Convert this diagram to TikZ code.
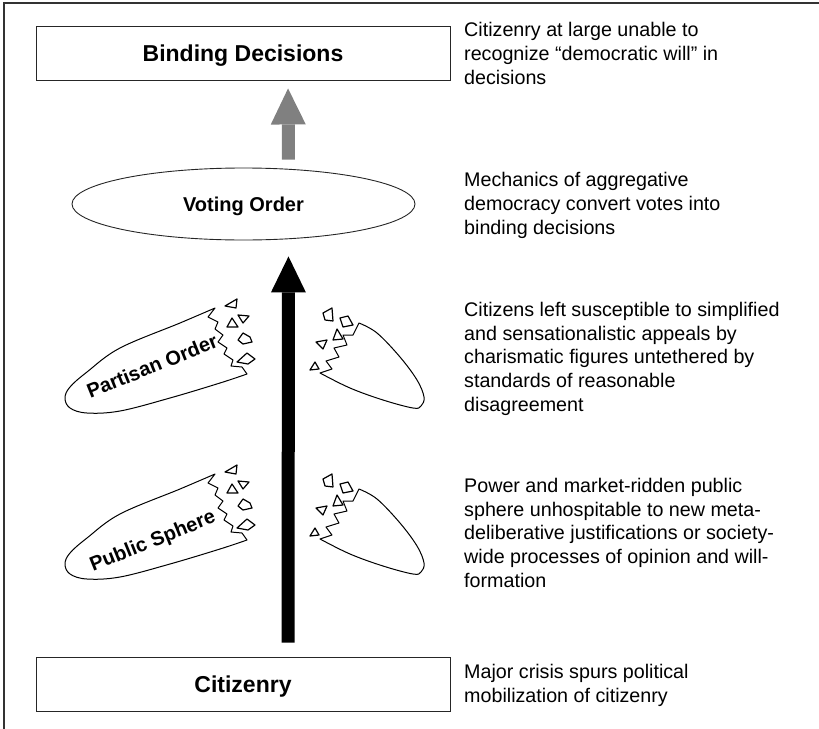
\documentclass[tikz,border=0pt]{standalone}
\usepackage{fontspec}
\setmainfont{Liberation Sans}
\usetikzlibrary{shapes.geometric,arrows.meta}

\tikzset{
	blockbox/.style={draw=black!85, line width=0.9pt, rectangle, minimum width=414pt, minimum height=54pt, inner sep=0pt, text depth=0pt, font=\bfseries\fontsize{23}{27}\selectfont},
	orderoval/.style={draw=black!85, line width=0.9pt, ellipse, minimum width=343pt, minimum height=72pt, inner sep=0pt, text depth=0pt, font=\bfseries\fontsize{20}{24}\selectfont},
	note/.style={anchor=base west, align=left, inner sep=0pt, font=\fontsize{19.7}{23.6}\selectfont},
	tilted/.style={rotate=22, inner sep=0pt, font=\bfseries\fontsize{20}{24}\selectfont},
	shard/.style={draw=black, line width=1pt, line join=round},
	chip/.style={draw=black, line width=1.2pt, line join=round},
	flow/.style={line width=13pt, -{Triangle[length=36pt,width=35pt,line width=0pt]}}
}

\begin{document}
\begin{tikzpicture}[x=1pt,y=-1pt]
					\useasboundingbox (0,0) rectangle (819,728);
					\draw[line width=1.2pt, black!80] (4,740) -- (4,3) -- (830,3);

					% left column
					\node[blockbox] (bind) at (243,53) {Binding Decisions};
					\node[orderoval] (vote) at (243.5,204) {Voting Order};
					\node[blockbox] (citz) at (243,684) {Citizenry};

					\draw[flow, gray, shorten <=8pt, shorten >=8pt] ([xshift=45pt]vote.north) -- ([xshift=45pt]bind.south);
					\draw[flow, black, shorten <=14pt, shorten >=16pt] ([xshift=45pt]citz.north) -- ([xshift=45pt]vote.south);

					% broken orders
					\foreach \dy in {0,166} {
						\begin{scope}[shift={(0,\dy)}]
							\draw[shard] plot[smooth, tension=0.6] coordinates {(247,374) (220,383) (170,398) (120,411) (87,413) (70,408) (65,398) (70,387) (87,372) (120,348) (180,323) (215,308)}
								-- (208,317) -- (218,322) -- (215,329) -- (223,335) -- (218,342) -- (227,348) -- (224,354) -- (233,360) -- (231,366) -- (242,367) -- cycle;
							\draw[chip] (225,306) -- (237,299) -- (236,308) -- cycle;
							\draw[chip] (227,327) -- (232,318) -- (238,327) -- cycle;
							\draw[chip] (238,315) -- (249,316) -- (243,323) -- cycle;
							\draw[chip] (238,340) -- (243,333) -- (250,337) -- (252,342) -- (243,344) -- cycle;
							\draw[chip] (237,362) -- (247,353) -- (255,359) -- (248,364) -- cycle;

							\draw[shard] plot[smooth, tension=0.6] coordinates {(359,323) (377,333) (400,357) (417,380) (424,397) (421,406) (413,408) (383,400) (350,388) (320,373)}
								-- (332,369) -- (326,361) -- (339,357) -- (334,348) -- (347,345) -- (343,335) -- (353,335) -- cycle;
							\draw[chip] (323,313) -- (332,308) -- (333,321) -- (325,320) -- cycle;
							\draw[chip] (340,318) -- (348,316) -- (353,325) -- (343,327) -- cycle;
							\draw[chip] (333,340) -- (337,329) -- (343,339) -- cycle;
							\draw[chip] (316,342) -- (327,340) -- (323,349) -- cycle;
							\draw[chip] (310,370) -- (315,362) -- (319,369) -- cycle;
						\end{scope}
					}
					\node[tilted] (part) at (152,366) {Partisan Order};
					\node[tilted] (publ) at (153,542) {Public Sphere};

					% right column (placed at the baseline of each last line)
					\node[note] (n1) at (464,84) {Citizenry at large unable to\\recognize “democratic will” in\\decisions};
					\node[note] (n2) at (464,234) {Mechanics of aggregative\\democracy convert votes into\\binding decisions};
					\node[note] (n3) at (464,411) {Citizens left susceptible to simplified\\and sensationalistic appeals by\\charismatic figures untethered by\\standards of reasonable\\disagreement};
					\node[note] (n4) at (464,587) {Power and market-ridden public\\sphere unhospitable to new meta-\\deliberative justifications or society-\\wide processes of opinion and will-\\formation};
					\node[note] (n5) at (464,702) {Major crisis spurs political\\mobilization of citizenry};
				\end{tikzpicture}
\end{document}
